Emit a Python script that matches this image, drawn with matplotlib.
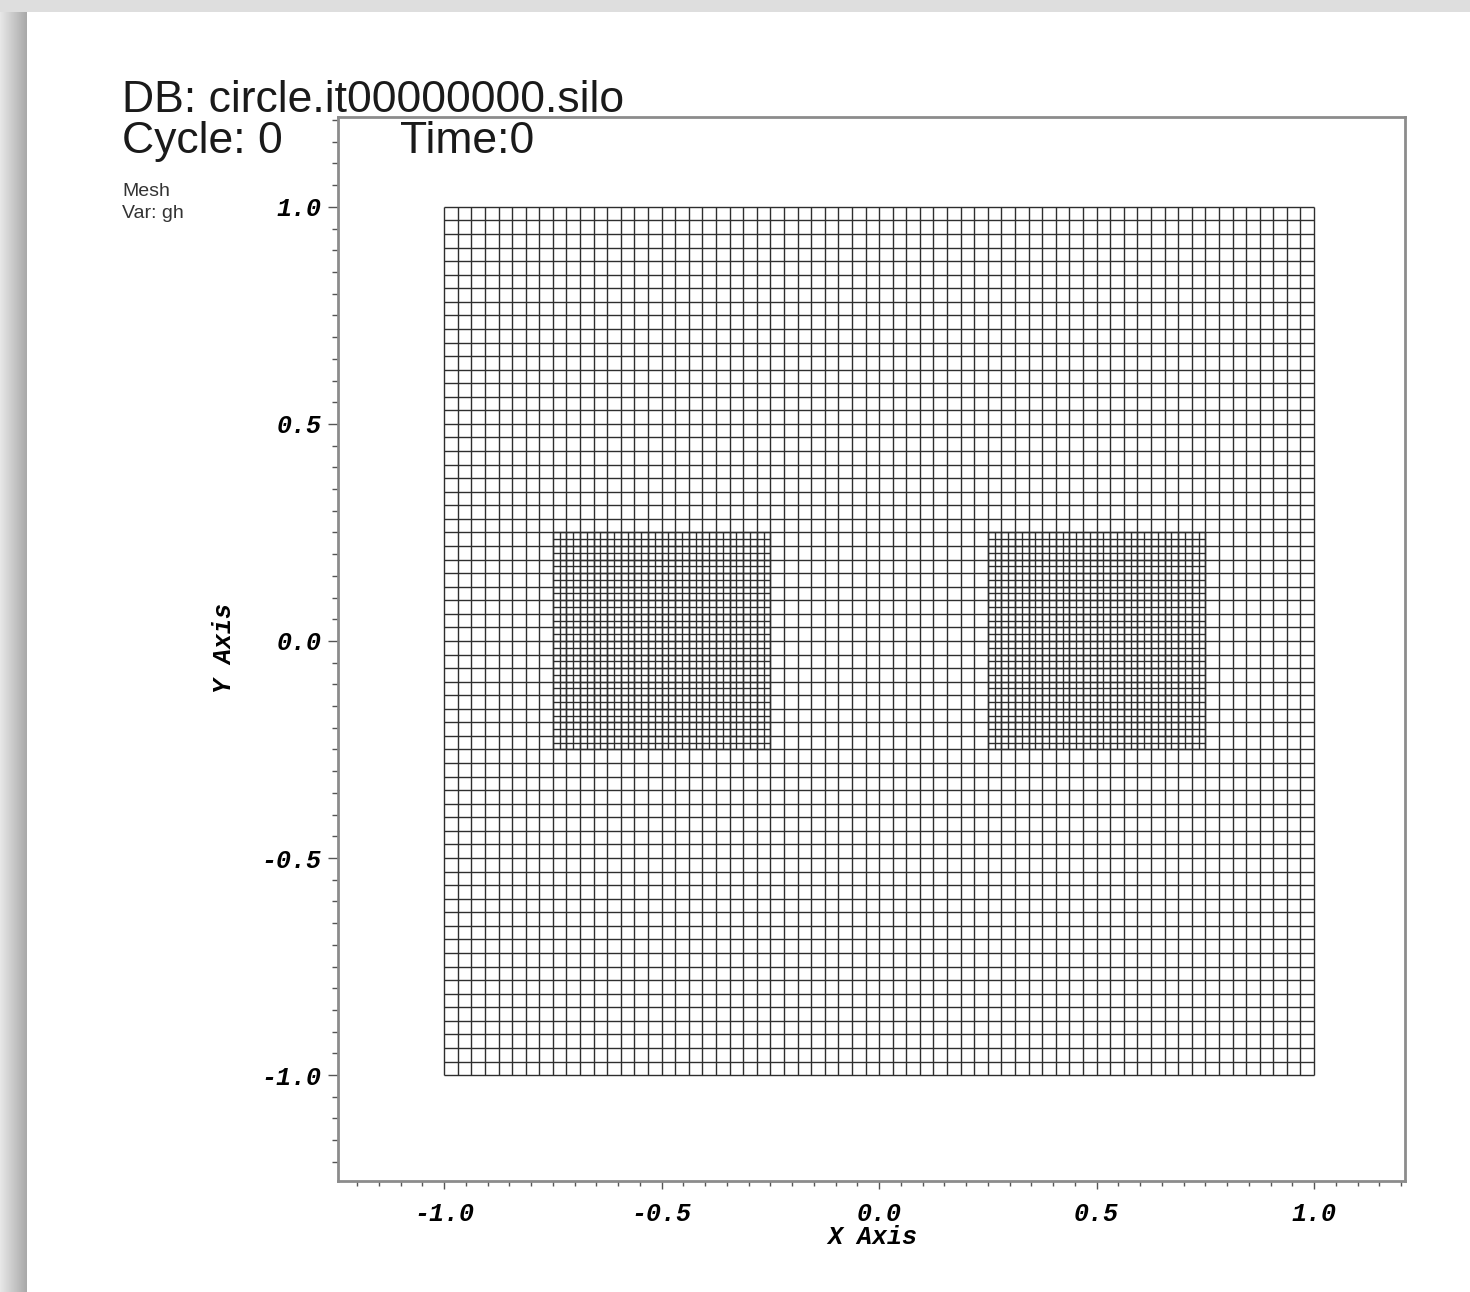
import numpy as np
import matplotlib
matplotlib.use("Agg")
import matplotlib.pyplot as plt
from matplotlib.collections import LineCollection
from matplotlib.ticker import MultipleLocator, FuncFormatter

plt.rcParams['axes.unicode_minus'] = False

# mesh description
domain = [-1.0, 1.0]
coarse_cells = 64
refine_factor = 2
patch_x = [(-0.75, -0.25), (0.25, 0.75)]
patch_y = (-0.25, 0.25)

db_name = "DB: circle.it00000000.silo"
cycle_text = "Cycle: 0"
time_text = "Time:0"
legend_lines = ["Mesh", "Var: gh"]

major_ticks = [-1.0, -0.5, 0.0, 0.5, 1.0]
xlim = (-1.244, 1.209)
ylim = (-1.244, 1.207)

W, H = 1470, 1292
fig = plt.figure(figsize=(W / 100, H / 100), dpi=100)


def fx(px):
    return px / W


def fy(py):
    return 1 - py / H


# window frame shading
bg = fig.add_axes([0, 0, 1, 1], zorder=-5)
bg.set_xlim(0, W)
bg.set_ylim(H, 0)
bg.axis('off')
grad = np.linspace(0.91, 0.66, 64)[None, :, None] * np.ones((1, 1, 3))
bg.imshow(grad, extent=[0, 27, H, 12], aspect='auto', interpolation='bilinear')
bg.add_patch(plt.Rectangle((0, 0), W, 12, color='#dedede', lw=0))

ax = fig.add_axes([fx(338), fy(1181), fx(1405) - fx(338), fy(117) - fy(1181)])
ax.set_xlim(*xlim)
ax.set_ylim(*ylim)

# coarse mesh
lo, hi = domain
coarse = np.linspace(lo, hi, coarse_cells + 1)
segs = [[(c, lo), (c, hi)] for c in coarse] + [[(lo, c), (hi, c)] for c in coarse]

# refined patches
dx = (hi - lo) / coarse_cells / refine_factor
for x0, x1 in patch_x:
    xs = np.arange(x0, x1 + dx / 2, dx)
    ys = np.arange(patch_y[0], patch_y[1] + dx / 2, dx)
    segs += [[(x, patch_y[0]), (x, patch_y[1])] for x in xs]
    segs += [[(x0, y), (x1, y)] for y in ys]

ax.add_collection(LineCollection(segs, colors='#2e2e2e', linewidths=1.0))

# axes styling
for side in ['left', 'bottom', 'top', 'right']:
    ax.spines[side].set_color('#8c8c8c')
    ax.spines[side].set_linewidth(2.0)

ax.xaxis.set_major_locator(plt.FixedLocator(major_ticks))
ax.yaxis.set_major_locator(plt.FixedLocator(major_ticks))
ax.xaxis.set_minor_locator(MultipleLocator(0.05))
ax.yaxis.set_minor_locator(MultipleLocator(0.05))
fmt = FuncFormatter(lambda v, p: f"{v:.1f}")
ax.xaxis.set_major_formatter(fmt)
ax.yaxis.set_major_formatter(fmt)

tick_font = dict(family='Liberation Mono', weight='bold', style='italic', size=18)
ax.tick_params(axis='x', which='major', direction='out', length=6, width=1.0,
               color='#555555', pad=9)
ax.tick_params(axis='x', which='minor', direction='out', length=3.5, width=1.0,
               color='#555555')
ax.tick_params(axis='y', which='major', direction='out', length=7, width=1.0,
               color='#555555', pad=5)
ax.tick_params(axis='y', which='minor', direction='out', length=4, width=1.0,
               color='#555555')
for lab in ax.get_xticklabels() + ax.get_yticklabels():
    lab.set_fontproperties(matplotlib.font_manager.FontProperties(**tick_font))

fig.text(fx(872), fy(1237), "X Axis", ha='center', va='center', **tick_font)
fig.text(fx(224), fy(648), "Y Axis", ha='center', va='center', rotation=90, **tick_font)

# header annotations
head_font = dict(family='Liberation Sans', size=32, color='#1a1a1a')
fig.text(fx(122), fy(112), db_name, ha='left', va='baseline', **head_font)
fig.text(fx(122), fy(153), cycle_text, ha='left', va='baseline', **head_font)
fig.text(fx(400), fy(153), time_text, ha='left', va='baseline', **head_font)
fig.text(fx(122), fy(196), legend_lines[0], ha='left', va='baseline',
         family='Liberation Sans', size=14, color='#333333')
fig.text(fx(122), fy(218), legend_lines[1], ha='left', va='baseline',
         family='Liberation Sans', size=14, color='#333333')

fig.savefig('out.png', dpi=100)
